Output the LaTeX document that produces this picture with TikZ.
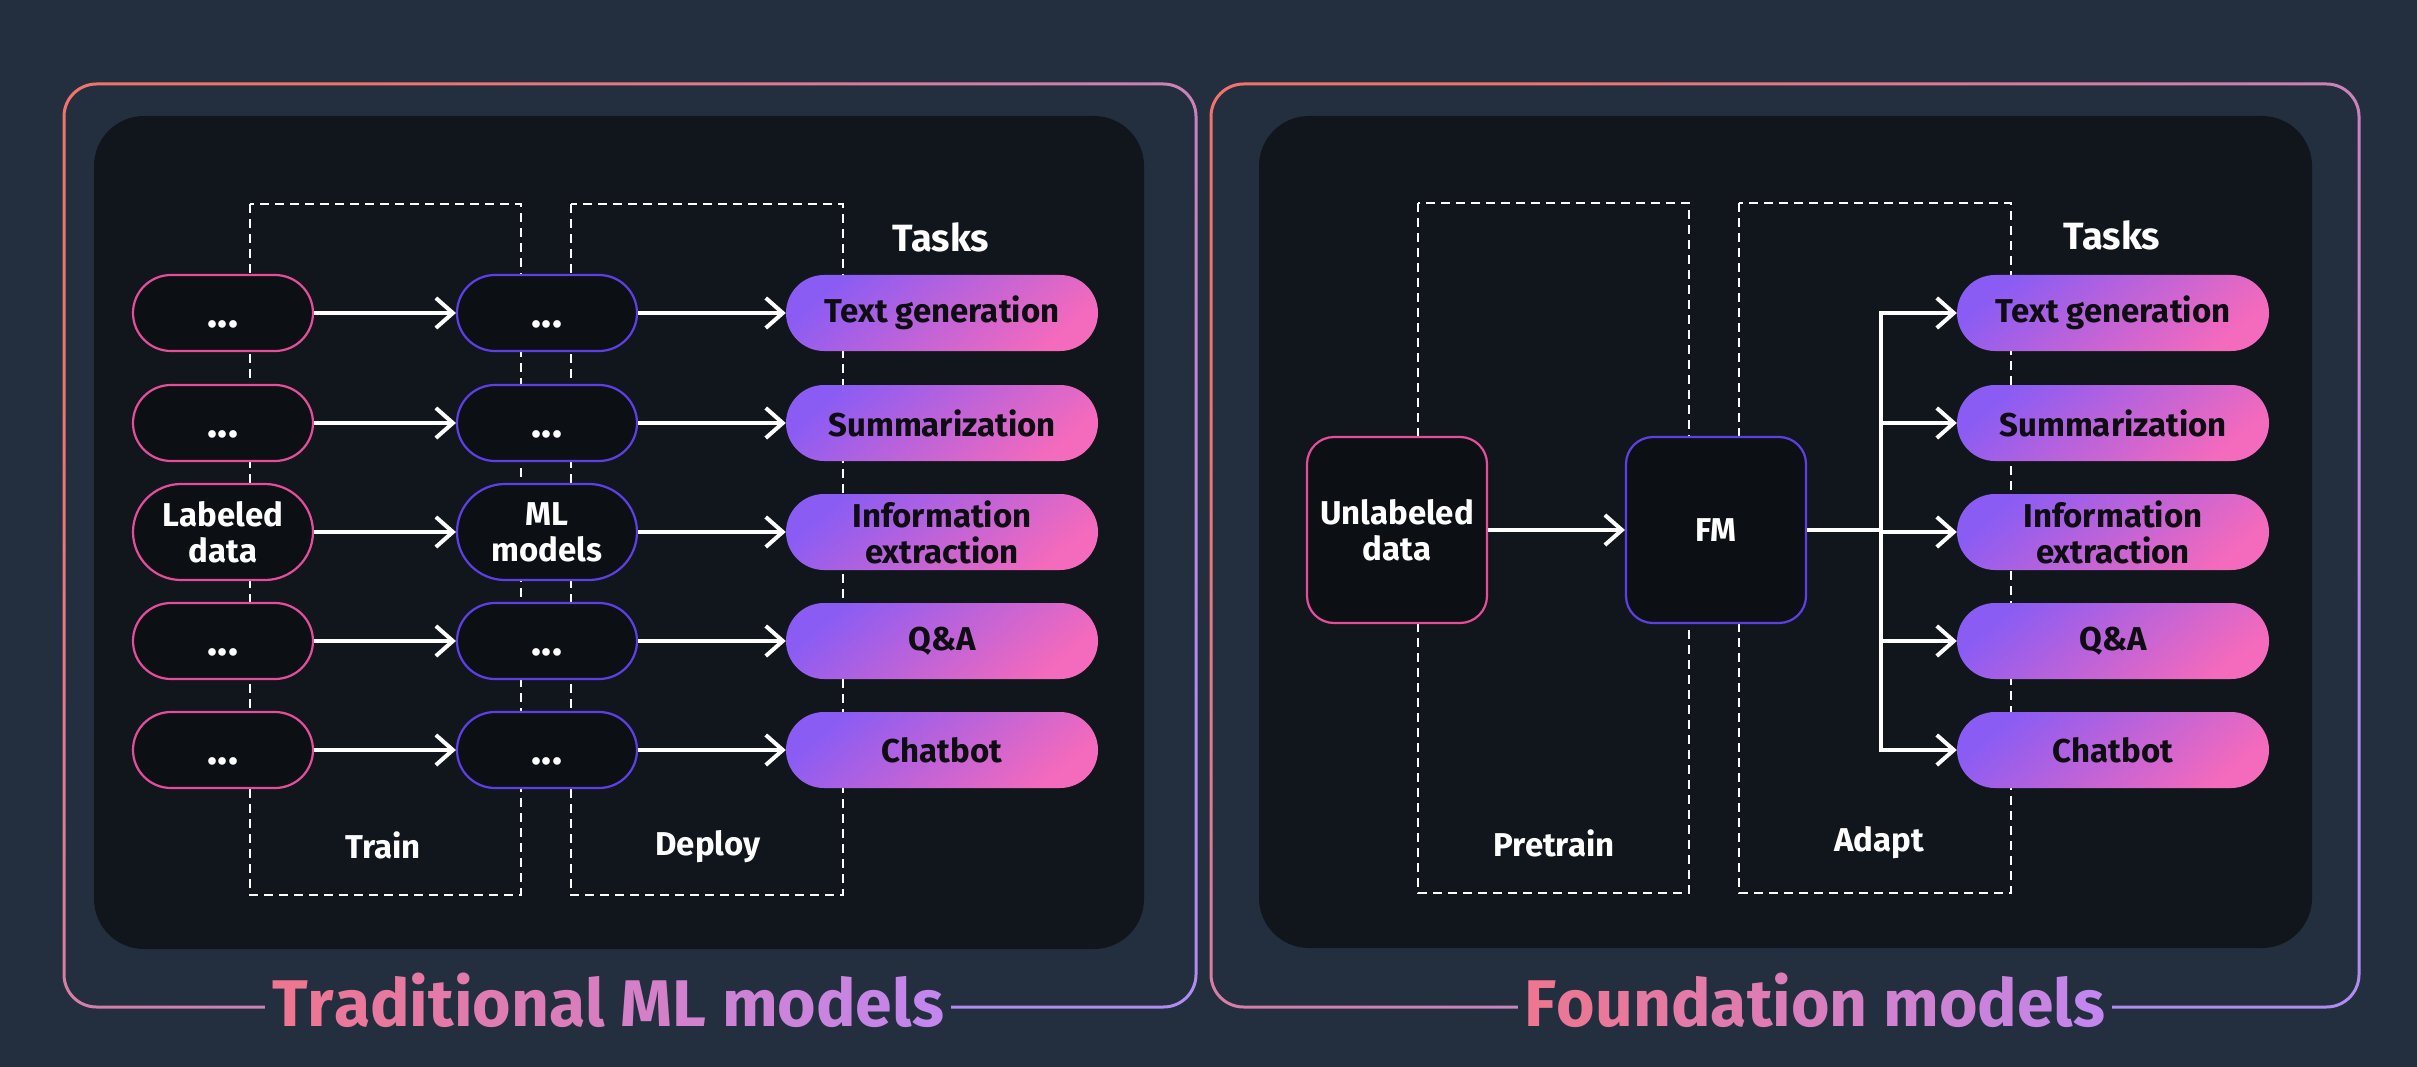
\documentclass[tikz,border=0pt]{standalone}
\usepackage{fontspec}
\setmainfont{Fira Sans}
\usetikzlibrary{arrows.meta,calc}
\definecolor{bg}{HTML}{232F3E}
\definecolor{panel}{HTML}{11161D}
\definecolor{pillfill}{HTML}{0C1015}
\definecolor{dataC}{HTML}{E64C9C}
\definecolor{modC}{HTML}{5E3FE6}
\definecolor{vA}{HTML}{8A5CF4}
\definecolor{vB}{HTML}{F46ABC}
\definecolor{fA}{HTML}{F2736C}
\definecolor{fM}{HTML}{E27DBE}
\definecolor{fB}{HTML}{B08CF2}
\definecolor{tA}{HTML}{EE7690}
\definecolor{tB}{HTML}{C286EE}
\definecolor{ink}{HTML}{0D0D12}
\newcommand{\gc}[2]{\textcolor{tB!#1!tA}{#2}}
\newcommand{\mydots}{{\fontsize{42}{42}\selectfont\vphantom{T}...}}
\tikzset{
  lbl/.style={font=\fontsize{33}{36}\selectfont\bfseries, text=white, align=center},
  datapill/.style={draw=dataC, line width=2.2pt, fill=pillfill, rounded corners=38pt,
    minimum width=180pt, minimum height=76pt, inner sep=0pt, lbl},
  modpill/.style={datapill, draw=modC},
  bigpill/.style={rounded corners=48pt, minimum height=96pt},
  sqbox/.style={draw=dataC, line width=2.2pt, fill=pillfill, rounded corners=27pt,
    minimum width=180pt, minimum height=186pt, inner sep=0pt, lbl},
  taskpill/.style={rounded corners=38pt, minimum width=312pt, minimum height=76pt,
    inner sep=0pt, top color=vA, bottom color=vB, shading angle=40,
    font=\fontsize{33}{36}\selectfont\bfseries, text=ink, align=center},
  dbox/.style={draw=white, line width=2pt, dash pattern=on 9pt off 6pt},
  arr/.style={draw=white, line width=4pt, -{Straight Barb[length=17pt,width=30pt]}},
  wline/.style={draw=white, line width=4pt},
  panelbox/.style={fill=panel, rounded corners=50pt},
  hdr/.style={font=\fontsize{38}{42}\selectfont\bfseries, text=white},
  ttl/.style={font=\fontsize{66}{72}\selectfont\bfseries, fill=bg, inner xsep=7pt,
    inner ysep=2pt, anchor=base},
}
\begin{document}
\begin{tikzpicture}[x=1pt,y=-1pt]
\useasboundingbox (0,0) rectangle (2417,1067);
\fill[bg] (0,0) rectangle (2417,1067);

% ---------- frames ----------
\shade[even odd rule, top color=fA, middle color=fM, bottom color=fB, shading angle=45]
  [rounded corners=34pt] (62.5,82.5) rectangle (1197.5,1008.5)
  [rounded corners=31pt] (65.5,85.5) rectangle (1194.5,1005.5);
\shade[even odd rule, top color=fA, middle color=fM, bottom color=fB, shading angle=45]
  [rounded corners=34pt] (1209.5,82.5) rectangle (2360.5,1008.5)
  [rounded corners=31pt] (1212.5,85.5) rectangle (2357.5,1005.5);

\path[panelbox] (94,116) rectangle (1144,949);
\path[panelbox] (1259,116) rectangle (2312,948);

% ---------- left panel ----------
\draw[dbox] (250,204) rectangle (521,895);
\draw[dbox] (571,204) rectangle (843,895);

\node[hdr] (tasksL) at (941,237) {Tasks};
\node[lbl] (train) at (383,845) {Train};
\node[lbl] (deploy) at (708,847) {Deploy};

\node[datapill] (d1) at (223,313) {\mydots};
\node[datapill] (d2) at (223,423) {\mydots};
\node[datapill,bigpill] (d3) at (223,532) {Labeled\\data};
\node[datapill] (d4) at (223,641) {\mydots};
\node[datapill] (d5) at (223,750) {\mydots};

\node[modpill] (m1) at (547,313) {\mydots};
\node[modpill] (m2) at (547,423) {\mydots};
\node[modpill,bigpill] (m3) at (547,532) {ML\\models};
\node[modpill] (m4) at (547,641) {\mydots};
\node[modpill] (m5) at (547,750) {\mydots};

\node[taskpill] (t1) at (942,313) {Text generation};
\node[taskpill] (t2) at (942,423) {Summarization};
\node[taskpill] (t3) at (942,532) {Information\\extraction};
\node[taskpill] (t4) at (942,641) {Q\&A};
\node[taskpill] (t5) at (942,750) {Chatbot};

\foreach \i in {1,...,5}{
  \draw[arr] (d\i) -- (m\i);
  \draw[arr] (m\i) -- (t\i);
}

\node[ttl] (titleL) at (608,1026) {\gc{0}{T}\gc{5}{r}\gc{10}{a}\gc{15}{d}\gc{20}{i}\gc{25}{t}\gc{30}{i}\gc{35}{o}\gc{40}{n}\gc{45}{a}\gc{50}{l} \gc{60}{M}\gc{65}{L} \gc{75}{m}\gc{80}{o}\gc{85}{d}\gc{90}{e}\gc{95}{l}\gc{100}{s}};

% ---------- right panel ----------
\draw[dbox] (1418,203) rectangle (1689,893);
\draw[dbox] (1739,203) rectangle (2011,893);

\node[hdr] (tasksR) at (2112,235) {Tasks};
\node[lbl] (pretrain) at (1554,843) {Pretrain};
\node[lbl] (adapt) at (1879,843) {Adapt};

\node[sqbox] (unl) at (1397,530) {Unlabeled\\data};
\node[sqbox, draw=modC] (fm) at (1716,530) {FM};

\node[taskpill] (u1) at (2113,313) {Text generation};
\node[taskpill] (u2) at (2113,423) {Summarization};
\node[taskpill] (u3) at (2113,532) {Information\\extraction};
\node[taskpill] (u4) at (2113,641) {Q\&A};
\node[taskpill] (u5) at (2113,750) {Chatbot};

\draw[arr] (unl) -- (fm);
\coordinate (busT) at (1881,313);
\coordinate (busB) at (1881,750);
\draw[wline] (fm.east) -- (fm.east -| busT);
\draw[wline, line cap=rect] (busT) -- (busB);
\foreach \i in {1,...,5}{
  \draw[arr] (u\i.west -| busT) -- (u\i.west);
}

\node[ttl] (titleR) at (1815,1026) {\gc{0}{F}\gc{6}{o}\gc{12}{u}\gc{19}{n}\gc{25}{d}\gc{31}{a}\gc{37}{t}\gc{44}{i}\gc{50}{o}\gc{56}{n} \gc{69}{m}\gc{75}{o}\gc{81}{d}\gc{87}{e}\gc{94}{l}\gc{100}{s}};
\end{tikzpicture}
\end{document}
